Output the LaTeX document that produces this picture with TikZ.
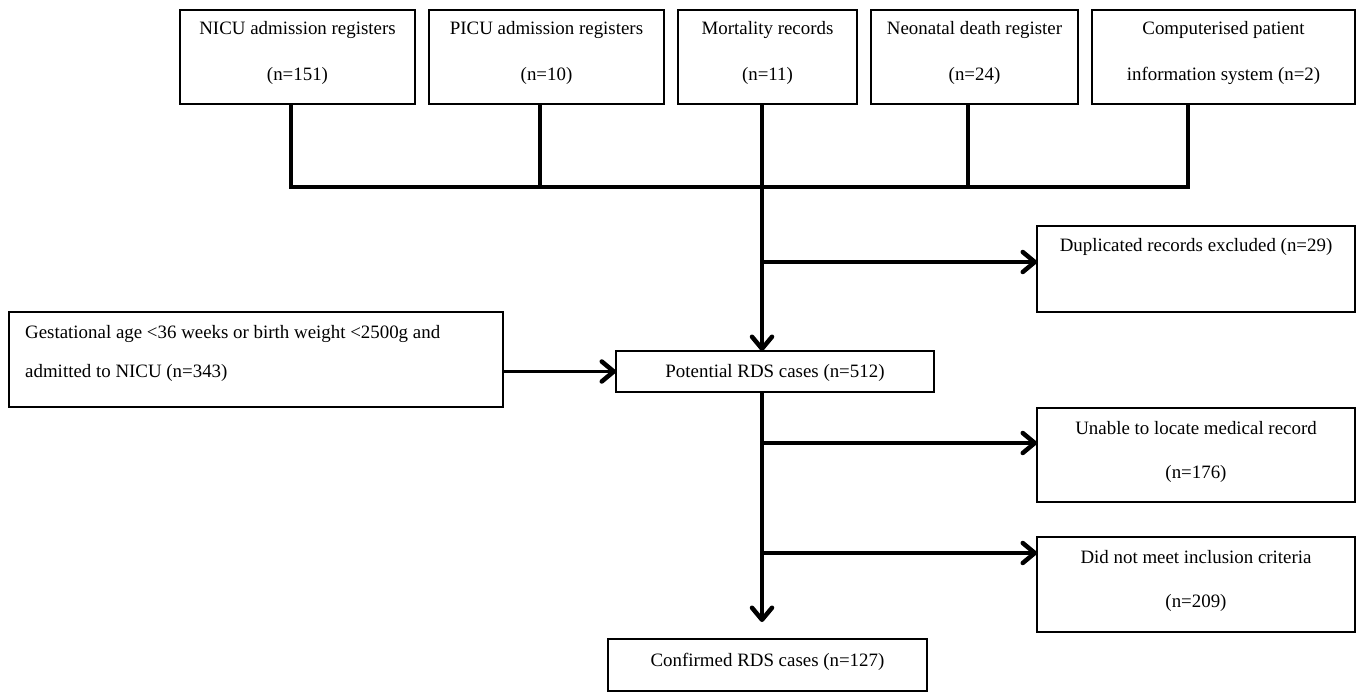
\documentclass[tikz,border=0pt]{standalone}
\usepackage{fontspec}
\setmainfont{Liberation Serif}
\usetikzlibrary{arrows.meta}
\tikzset{
  box/.style={draw, line width=1.1pt, inner sep=0pt, outer sep=0pt, anchor=north west},
  txt/.style={inner sep=0pt, anchor=base, font=\fontsize{18.9}{22}\selectfont},
  conn/.style={line width=3.5pt},
  arr/.style={line width=3.5pt, -{Straight Barb[length=12pt,width=20pt,line width=4.5pt,round]}},
}
\begin{document}
\begin{tikzpicture}[x=1pt,y=-1pt]
\useasboundingbox (0,0) rectangle (1362,693);
% top boxes
\node[box, minimum width=235pt, minimum height=94pt] (b1) at (180,10) {};
\node[box, minimum width=235pt, minimum height=94pt] (b2) at (429,10) {};
\node[box, minimum width=179pt, minimum height=94pt] (b3) at (678,10) {};
\node[box, minimum width=207pt, minimum height=94pt] (b4) at (871,10) {};
\node[box, minimum width=263pt, minimum height=94pt] (b5) at (1092,10) {};
\node[txt] (t1a) at (297.5,35) {NICU admission registers};
\node[txt] (t1b) at (297.5,81) {(n=151)};
\node[txt] (t2a) at (546.5,35) {PICU admission registers};
\node[txt] (t2b) at (546.5,81) {(n=10)};
\node[txt] (t3a) at (767.5,35) {Mortality records};
\node[txt] (t3b) at (767.5,81) {(n=11)};
\node[txt] (t4a) at (974.5,35) {Neonatal death register};
\node[txt] (t4b) at (974.5,81) {(n=24)};
\node[txt] (t5a) at (1223.5,35) {Computerised patient};
\node[txt] (t5b) at (1223.5,81) {information system (n=2)};
% side and main boxes
\node[box, minimum width=318pt, minimum height=86pt] (dup) at (1037,226) {};
\node[txt] (tdup) at (1196,251) {Duplicated records excluded (n=29)};
\node[box, minimum width=494pt, minimum height=95pt] (gest) at (9,312) {};
\node[txt, anchor=base west] (tg1) at (25,338) {Gestational age <36 weeks or birth weight <2500g and};
\node[txt, anchor=base west] (tg2) at (25,377) {admitted to NICU (n=343)};
\node[box, minimum width=318pt, minimum height=41pt] (pot) at (616,351) {};
\node[txt] (tpot) at (775,377) {Potential RDS cases (n=512)};
\node[box, minimum width=318pt, minimum height=94pt] (una) at (1037,408) {};
\node[txt] (tu1) at (1196,434) {Unable to locate medical record};
\node[txt] (tu2) at (1196,478) {(n=176)};
\node[box, minimum width=318pt, minimum height=95pt] (dnm) at (1037,537) {};
\node[txt] (td1) at (1196,563) {Did not meet inclusion criteria};
\node[txt] (td2) at (1196,607) {(n=209)};
\node[box, minimum width=319pt, minimum height=52pt] (conf) at (608,639) {};
\node[txt] (tconf) at (767.5,666) {Confirmed RDS cases (n=127)};
% junctions
\coordinate (j1) at (291,187);
\coordinate (j2) at (540,187);
\coordinate (j3) at (762,187);
\coordinate (j4) at (968,187);
\coordinate (j5) at (1188,187);
\coordinate (k1) at (762,262);
\coordinate (k2) at (762,443);
\coordinate (k3) at (762,553);
% connectors
\draw[conn] (b1.south -| j1) -- (j1) -- (j5) -- (b5.south -| j5);
\draw[conn] (b2.south -| j2) -- (j2);
\draw[conn] (b3.south -| j3) -- (j3);
\draw[conn] (b4.south -| j4) -- (j4);
\draw[arr] (j3) -- (pot.north -| j3);
\draw[arr] (k1) -- (k1 -| dup.west);
\draw[arr] (gest.east |- pot.west) -- (pot.west);
\draw[arr] (pot.south -| j3) -- ([yshift=17pt]conf.north -| j3);
\draw[arr] (k2) -- (k2 -| una.west);
\draw[arr] (k3) -- (k3 -| dnm.west);
\end{tikzpicture}
\end{document}
